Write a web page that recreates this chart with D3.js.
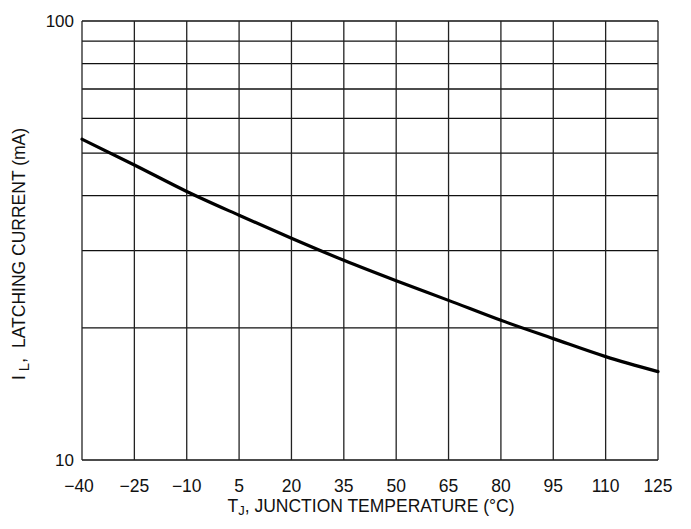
<!DOCTYPE html>
<html>
<head>
<meta charset="utf-8">
<script src="https://cdn.jsdelivr.net/npm/d3@7"></script>
<style>
  body { margin: 0; background: #fff; }
  text { font-family: "Liberation Sans", Arial, sans-serif; fill: #111; }
</style>
</head>
<body>
<div id="chart-container"></div>
<script>
// junction temperature (deg C) and latching current (mA)
const temps = [-40, -25, -10, 5, 20, 35, 50, 65, 80, 95, 110, 125];
const latching = [53.8, 47.0, 40.9, 36.1, 32.0, 28.5, 25.6, 23.1, 20.8, 18.9, 17.2, 15.9];

const xTicks = [-40, -25, -10, 5, 20, 35, 50, 65, 80, 95, 110, 125];
const yGrid = [10, 20, 30, 40, 50, 60, 70, 80, 90, 100];
const yLabels = [10, 100];

const width = 691;
const height = 529;
const margin = { top: 21, left: 82, right: 33, bottom: 69 };

const svg = d3.select("#chart-container").append("svg")
  .attr("width", width)
  .attr("height", height);

const x = d3.scaleLinear()
  .domain([-40, 125])
  .range([margin.left, width - margin.right]);

const y = d3.scaleLog()
  .domain([10, 100])
  .range([height - margin.bottom, margin.top]);

let g = svg.append("g");

// grid
g.selectAll(".hgrid")
  .data(yGrid)
  .enter().append("line")
  .attr("class", "hgrid")
  .attr("x1", x(-40)).attr("x2", x(125))
  .attr("y1", d => y(d)).attr("y2", d => y(d))
  .attr("stroke", "#111")
  .attr("stroke-width", 1.3);

g.selectAll(".vgrid")
  .data(xTicks)
  .enter().append("line")
  .attr("class", "vgrid")
  .attr("x1", d => x(d)).attr("x2", d => x(d))
  .attr("y1", y(10)).attr("y2", y(100))
  .attr("stroke", "#222")
  .attr("stroke-width", 1.3);

// curve
const line = d3.line()
  .x((d, i) => x(temps[i]))
  .y(d => y(d))
  .curve(d3.curveMonotoneX);

g.append("path")
  .datum(latching)
  .attr("d", line)
  .attr("fill", "none")
  .attr("stroke", "#000")
  .attr("stroke-width", 3.2)
  .attr("stroke-linecap", "round");

// tick labels
const fmt = d => d < 0 ? "\u2212" + Math.abs(d) : String(d);

svg.append("g").selectAll("text")
  .data(xTicks)
  .enter().append("text")
  .attr("x", d => x(d) + (d === -40 ? -3 : 0))
  .attr("y", y(10) + 32)
  .attr("text-anchor", "middle")
  .style("font-size", "17.5px")
  .text(fmt);

svg.append("g").selectAll("text")
  .data(yLabels)
  .enter().append("text")
  .attr("x", margin.left - 8)
  .attr("y", d => y(d))
  .attr("dy", "0.35em")
  .attr("text-anchor", "end")
  .style("font-size", "17px")
  .text(d => d);

// axis titles
const xTitle = svg.append("text")
  .attr("x", (x(-40) + x(125)) / 2 + 1)
  .attr("y", y(10) + 52)
  .attr("text-anchor", "middle")
  .style("font-size", "17.5px");
xTitle.append("tspan").text("T");
xTitle.append("tspan").attr("baseline-shift", "-25%").style("font-size", "13px").text("J");
xTitle.append("tspan").text(", JUNCTION TEMPERATURE (\u00B0C)");

const yTitle = svg.append("text")
  .attr("transform", `translate(25,254) rotate(-90)`)
  .attr("text-anchor", "middle")
  .style("font-size", "17.5px");
yTitle.append("tspan").text("I");
yTitle.append("tspan").attr("dx", 4).attr("baseline-shift", "-25%").style("font-size", "15px").text("L");
yTitle.append("tspan").text(",");
yTitle.append("tspan").attr("dx", 10).text("LATCHING CURRENT (mA)");
</script>
</body>
</html>
